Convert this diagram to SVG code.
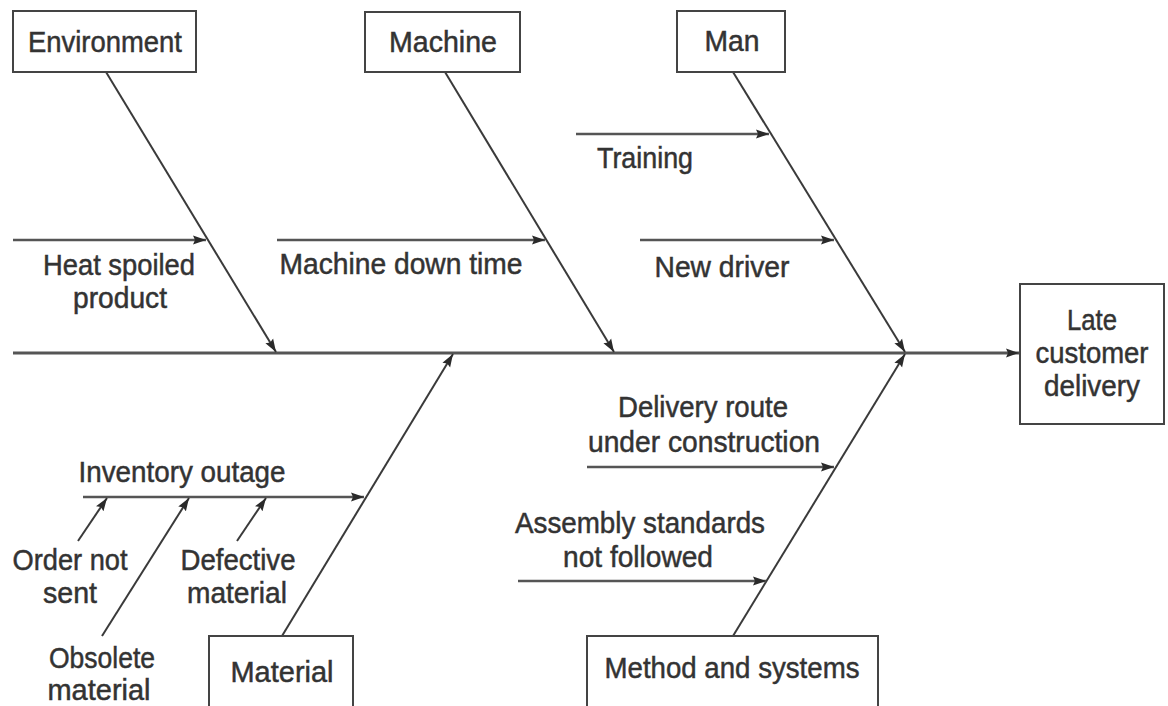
<svg xmlns="http://www.w3.org/2000/svg" width="1168" height="706" viewBox="0 0 1168 706">
  <style>
    .box { fill: #ffffff; stroke: #444444; stroke-width: 2; }
    .lbl { font-family: "Liberation Sans", Arial, sans-serif; font-size: 30px; fill: #333333; stroke: #333333; stroke-width: 0.5; text-anchor: middle; }
    .bone { stroke: #3a3a3a; stroke-width: 2; fill: none; }
    .sub { stroke: #555555; stroke-width: 2.6; fill: none; }
    .spine { stroke: #555555; stroke-width: 3; fill: none; }
  </style>
  <defs>
    <marker id="arrow" markerUnits="userSpaceOnUse" markerWidth="14" markerHeight="10" refX="13" refY="5" orient="auto">
      <path d="M0,0.5 L13,5 L0,9.5 L2,5 z" fill="#2a2a2a"/>
    </marker>
  </defs>
  <rect width="1168" height="706" fill="#ffffff"/>

  <!-- connectors -->
  <g id="connectors">
    <!-- main spine -->
    <line class="spine" x1="13" y1="353" x2="1019" y2="353" marker-end="url(#arrow)"/>
    <!-- category bones -->
    <line class="bone" x1="106" y1="72" x2="276" y2="352" marker-end="url(#arrow)"/>
    <line class="bone" x1="445" y1="72" x2="614" y2="352" marker-end="url(#arrow)"/>
    <line class="bone" x1="733" y1="72" x2="905" y2="352" marker-end="url(#arrow)"/>
    <line class="bone" x1="282" y1="636" x2="453" y2="354" marker-end="url(#arrow)"/>
    <line class="bone" x1="733" y1="636" x2="905" y2="354" marker-end="url(#arrow)"/>
    <!-- cause arrows -->
    <line class="sub" x1="13" y1="240" x2="206" y2="240" marker-end="url(#arrow)"/>
    <line class="sub" x1="277" y1="240" x2="545" y2="240" marker-end="url(#arrow)"/>
    <line class="sub" x1="576" y1="134" x2="769" y2="134" marker-end="url(#arrow)"/>
    <line class="sub" x1="640" y1="240" x2="834" y2="240" marker-end="url(#arrow)"/>
    <line class="sub" x1="83" y1="497" x2="364" y2="497" marker-end="url(#arrow)"/>
    <line class="sub" x1="587" y1="467" x2="834" y2="467" marker-end="url(#arrow)"/>
    <line class="sub" x1="518" y1="581" x2="766" y2="581" marker-end="url(#arrow)"/>
    <!-- sub-causes of inventory outage -->
    <line class="bone" x1="78" y1="541" x2="107" y2="498" marker-end="url(#arrow)"/>
    <line class="bone" x1="102" y1="636" x2="189" y2="498" marker-end="url(#arrow)"/>
    <line class="bone" x1="237" y1="541" x2="266" y2="498" marker-end="url(#arrow)"/>
  </g>

  <!-- category boxes -->
  <g id="environment">
    <rect class="box" x="13" y="11" width="183" height="61"/>
    <text class="lbl" x="105" y="52" textLength="154" lengthAdjust="spacingAndGlyphs">Environment</text>
  </g>
  <g id="machine">
    <rect class="box" x="365" y="12" width="155" height="60"/>
    <text class="lbl" x="443" y="52" textLength="108" lengthAdjust="spacingAndGlyphs">Machine</text>
  </g>
  <g id="man">
    <rect class="box" x="677" y="11" width="108" height="61"/>
    <text class="lbl" x="732" y="51" textLength="55" lengthAdjust="spacingAndGlyphs">Man</text>
  </g>
  <g id="effect">
    <rect class="box" x="1020" y="284" width="144" height="140"/>
    <text class="lbl" x="1092" y="330" textLength="50" lengthAdjust="spacingAndGlyphs">Late</text>
    <text class="lbl" x="1092" y="363" textLength="113" lengthAdjust="spacingAndGlyphs">customer</text>
    <text class="lbl" x="1092" y="396" textLength="96" lengthAdjust="spacingAndGlyphs">delivery</text>
  </g>
  <g id="material">
    <rect class="box" x="209" y="636" width="144" height="80"/>
    <text class="lbl" x="282" y="682" textLength="103" lengthAdjust="spacingAndGlyphs">Material</text>
  </g>
  <g id="method">
    <rect class="box" x="587" y="636" width="291" height="80"/>
    <text class="lbl" x="732" y="678" textLength="255" lengthAdjust="spacingAndGlyphs">Method and systems</text>
  </g>

  <!-- cause labels -->
  <g id="heat-spoiled">
    <text class="lbl" x="119" y="275" textLength="152" lengthAdjust="spacingAndGlyphs">Heat spoiled</text>
    <text class="lbl" x="120" y="308" textLength="94" lengthAdjust="spacingAndGlyphs">product</text>
  </g>
  <g id="machine-down-time">
    <text class="lbl" x="401" y="274" textLength="243" lengthAdjust="spacingAndGlyphs">Machine down time</text>
  </g>
  <g id="training">
    <text class="lbl" x="645" y="168" textLength="96" lengthAdjust="spacingAndGlyphs">Training</text>
  </g>
  <g id="new-driver">
    <text class="lbl" x="722" y="277" textLength="135" lengthAdjust="spacingAndGlyphs">New driver</text>
  </g>
  <g id="inventory-outage">
    <text class="lbl" x="182" y="482" textLength="207" lengthAdjust="spacingAndGlyphs">Inventory outage</text>
  </g>
  <g id="order-not-sent">
    <text class="lbl" x="70" y="570" textLength="115" lengthAdjust="spacingAndGlyphs">Order not</text>
    <text class="lbl" x="70" y="603" textLength="54" lengthAdjust="spacingAndGlyphs">sent</text>
  </g>
  <g id="defective-material">
    <text class="lbl" x="238" y="570" textLength="115" lengthAdjust="spacingAndGlyphs">Defective</text>
    <text class="lbl" x="237" y="603" textLength="100" lengthAdjust="spacingAndGlyphs">material</text>
  </g>
  <g id="obsolete-material">
    <text class="lbl" x="102" y="668" textLength="106" lengthAdjust="spacingAndGlyphs">Obsolete</text>
    <text class="lbl" x="99" y="700" textLength="103" lengthAdjust="spacingAndGlyphs">material</text>
  </g>
  <g id="delivery-route">
    <text class="lbl" x="703" y="417" textLength="170" lengthAdjust="spacingAndGlyphs">Delivery route</text>
    <text class="lbl" x="704" y="452" textLength="232" lengthAdjust="spacingAndGlyphs">under construction</text>
  </g>
  <g id="assembly-standards">
    <text class="lbl" x="640" y="533" textLength="250" lengthAdjust="spacingAndGlyphs">Assembly standards</text>
    <text class="lbl" x="638" y="567" textLength="150" lengthAdjust="spacingAndGlyphs">not followed</text>
  </g>
</svg>
